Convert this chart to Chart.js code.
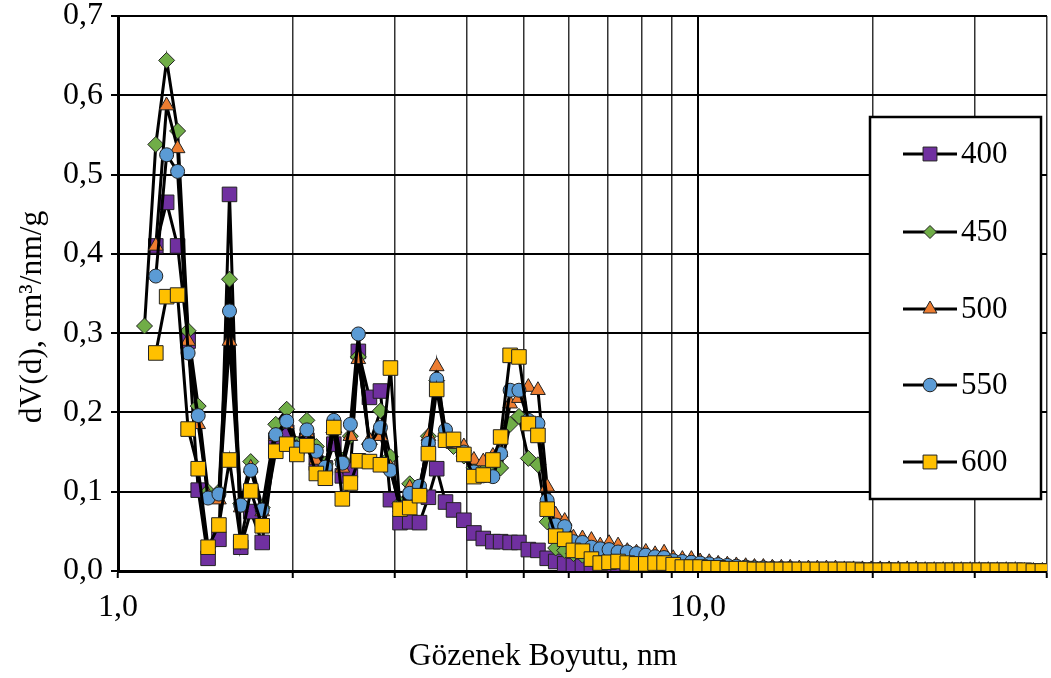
<!DOCTYPE html>
<html>
<head>
<meta charset="utf-8">
<script src="https://cdn.jsdelivr.net/npm/chart.js@4.4.1/dist/chart.umd.min.js"></script>
<style>
html,body{margin:0;padding:0;background:#fff;overflow:hidden}
#wrap{width:1051px;height:678px;position:relative}
canvas{display:block}
</style>
</head>
<body>
<div id="wrap"><canvas id="poreChart"></canvas></div>
<script>
// ----------------------------
// PORE SIZE DISTRIBUTION DATA
// ----------------------------

// pore width, nm
const poreSize = [
1.111, 1.162, 1.213, 1.267, 1.321, 1.375, 1.430, 1.493, 1.557, 1.628,
1.694, 1.773, 1.871, 1.954, 2.034, 2.117, 2.198, 2.278, 2.356, 2.437,
2.516, 2.597, 2.714, 2.835, 2.950, 3.064, 3.185, 3.311, 3.430, 3.545,
3.671, 3.790, 3.949, 4.109, 4.265, 4.431, 4.569, 4.745, 4.914, 5.101,
5.299, 5.497, 5.686, 5.893, 6.101, 6.323, 6.553, 6.786, 7.028, 7.284,
7.555, 7.837, 8.132, 8.438, 8.745, 9.066, 9.402, 9.745, 10.09, 10.46,
10.84, 11.24, 11.65, 12.09, 12.52, 12.97, 13.44, 13.93, 14.43, 14.96,
15.51, 16.07, 16.66, 17.27, 17.89, 18.55, 19.22, 19.90, 20.63, 21.37,
22.16, 22.96, 23.80, 24.66, 25.56, 26.49, 27.46, 28.46, 29.49, 30.57,
31.68, 32.84, 34.03, 35.27, 36.56, 37.89, 39.27
]

// dV(d), cm3/nm/g for each sample
const dv400 = [
null, 0.410, 0.465, 0.410, 0.290, 0.102, 0.016, 0.040, 0.475, 0.030,
0.075, 0.036, 0.165, 0.175, 0.155, 0.165, 0.136, 0.130, 0.160, 0.120,
0.127, 0.277, 0.219, 0.227, 0.090, 0.061, 0.062, 0.061, 0.093, 0.129,
0.087, 0.077, 0.064, 0.048, 0.041, 0.037, 0.037, 0.036, 0.036, 0.027,
0.026, 0.016, 0.012, 0.009, 0.007, 0.006, 0.005, 0.005, 0.004, 0.004,
0.004, 0.003, 0.003, 0.003, 0.003, 0.002, 0.002, 0.002, 0.002, 0.002,
0.002, 0.001, 0.001, 0.001, 0.001, 0.001, 0.001, 0.001, 0.001, 0.001,
0.001, 0.001, 0.001, 0.000, 0.000, 0.000, 0.000, 0.000, 0.000, 0.000,
0.000, 0.000, 0.000, 0.000, 0.000, 0.000, 0.000, 0.000, 0.000, 0.000,
0.000, 0.000, 0.000, 0.000, 0.000, 0.000, 0.000
]

const dv450 = [
0.309, 0.538, 0.644, 0.555, 0.303, 0.208, 0.100, 0.100, 0.368, 0.085,
0.138, 0.080, 0.185, 0.204, 0.160, 0.190, 0.157, 0.135, 0.175, 0.140,
0.170, 0.270, 0.160, 0.202, 0.144, 0.085, 0.110, 0.100, 0.170, 0.240,
0.170, 0.157, 0.145, 0.130, 0.125, 0.125, 0.130, 0.185, 0.195, 0.142,
0.134, 0.062, 0.029, 0.026, 0.022, 0.020, 0.018, 0.016, 0.016, 0.015,
0.014, 0.013, 0.013, 0.012, 0.012, 0.010, 0.009, 0.008, 0.008, 0.007,
0.006, 0.006, 0.005, 0.005, 0.004, 0.004, 0.004, 0.003, 0.003, 0.003,
0.003, 0.002, 0.002, 0.002, 0.002, 0.002, 0.002, 0.001, 0.001, 0.001,
0.001, 0.001, 0.001, 0.001, 0.001, 0.001, 0.001, 0.001, 0.001, 0.001,
0.001, 0.001, 0.001, 0.000, 0.000, 0.000, 0.000
]

const dv500 = [
null, 0.410, 0.587, 0.533, 0.290, 0.185, 0.095, 0.090, 0.290, 0.080,
0.130, 0.075, 0.170, 0.185, 0.155, 0.175, 0.140, 0.130, 0.180, 0.130,
0.170, 0.267, 0.165, 0.170, 0.130, 0.080, 0.105, 0.100, 0.170, 0.258,
0.170, 0.160, 0.157, 0.140, 0.138, 0.145, 0.150, 0.211, 0.218, 0.232,
0.228, 0.106, 0.071, 0.063, 0.042, 0.041, 0.039, 0.032, 0.035, 0.032,
0.025, 0.023, 0.024, 0.021, 0.023, 0.016, 0.015, 0.015, 0.012, 0.011,
0.009, 0.008, 0.007, 0.006, 0.005, 0.005, 0.004, 0.004, 0.004, 0.003,
0.003, 0.003, 0.003, 0.003, 0.002, 0.002, 0.002, 0.002, 0.002, 0.002,
0.002, 0.002, 0.002, 0.001, 0.001, 0.001, 0.001, 0.001, 0.001, 0.001,
0.001, 0.001, 0.001, 0.001, 0.000, 0.000, 0.000
]

const dv550 = [
null, 0.372, 0.525, 0.504, 0.275, 0.196, 0.092, 0.097, 0.328, 0.083,
0.127, 0.077, 0.172, 0.189, 0.155, 0.178, 0.151, 0.131, 0.190, 0.136,
0.185, 0.299, 0.159, 0.181, 0.127, 0.080, 0.098, 0.107, 0.161, 0.242,
0.178, 0.165, 0.150, 0.125, 0.120, 0.119, 0.148, 0.228, 0.228, 0.190,
0.186, 0.089, 0.058, 0.056, 0.037, 0.036, 0.030, 0.028, 0.027, 0.024,
0.024, 0.022, 0.020, 0.018, 0.017, 0.013, 0.012, 0.011, 0.010, 0.009,
0.008, 0.007, 0.006, 0.005, 0.004, 0.004, 0.003, 0.003, 0.003, 0.002,
0.002, 0.002, 0.002, 0.002, 0.002, 0.002, 0.002, 0.002, 0.002, 0.002,
0.001, 0.001, 0.001, 0.001, 0.001, 0.001, 0.001, 0.001, 0.001, 0.001,
0.001, 0.001, 0.000, 0.000, 0.000, 0.000, 0.000
]

const dv600 = [
null, 0.275, 0.346, 0.348, 0.179, 0.129, 0.030, 0.058, 0.140, 0.037,
0.101, 0.057, 0.151, 0.160, 0.147, 0.158, 0.123, 0.117, 0.181, 0.091,
0.111, 0.139, 0.138, 0.134, 0.256, 0.078, 0.080, 0.095, 0.148, 0.229,
0.165, 0.166, 0.147, 0.119, 0.121, 0.140, 0.169, 0.272, 0.270, 0.186,
0.171, 0.078, 0.044, 0.040, 0.026, 0.025, 0.015, 0.010, 0.011, 0.012,
0.010, 0.009, 0.009, 0.010, 0.010, 0.008, 0.005, 0.005, 0.005, 0.004,
0.004, 0.003, 0.003, 0.003, 0.002, 0.002, 0.002, 0.002, 0.002, 0.002,
0.002, 0.002, 0.002, 0.002, 0.002, 0.002, 0.001, 0.001, 0.001, 0.001,
0.001, 0.001, 0.001, 0.001, 0.001, 0.001, 0.001, 0.001, 0.001, 0.001,
0.001, 0.001, 0.001, 0.001, 0.001, 0.000, 0.000
]

const seriesLabels = ["400", "450", "500", "550", "600"]
const seriesValues = [dv400, dv450, dv500, dv550, dv600]

const xTickLabels = {1: "1,0", 10: "10,0"}
const xGridValues = [1, 2, 3, 4, 5, 6, 7, 8, 9, 10, 20, 30, 40]

const xTitle = "Gözenek Boyutu, nm"
const yTitle = "dV(d), cm³/nm/g"


// ----------------------------
// STYLES
// ----------------------------

const serif = '"Liberation Serif", "Times New Roman", serif'

const markers = [
    {style: "rect",     color: "#7030A0", r: 10.3, lr: 9.8},
    {style: "rectRot",  color: "#70AD47", r: 8,    lr: 6.5},
    {style: "triangle", color: "#ED7D31", r: 8.5,  lr: 8},
    {style: "circle",   color: "#5B9BD5", r: 7,    lr: 6.8},
    {style: "rect",     color: "#FFC000", r: 10.3, lr: 9.8}
]

function toPoints(vals){
    return poreSize.map((d,i)=> vals[i] == null ? null : {x:d, y:vals[i]}).filter(p=>p)
}

const datasets = seriesValues.map((vals,i)=>({
    label: seriesLabels[i],
    data: toPoints(vals),
    borderColor: "#000",
    borderWidth: 3,
    tension: 0,
    pointStyle: markers[i].style,
    pointRadius: markers[i].r,
    pointBackgroundColor: markers[i].color,
    pointBorderColor: "#222",
    pointBorderWidth: 1,
    // last sample sits on top
    order: seriesLabels.length - 1 - i
}))


// ------------------------------------
// AXIS TITLES + BOXED LEGEND
// ------------------------------------

const overlay = {
    id: "overlay",
    afterDraw(chart){
        const ctx = chart.ctx
        ctx.save()

        ctx.fillStyle = "#000"
        ctx.font = "31.5px " + serif
        ctx.textAlign = "center"
        ctx.textBaseline = "middle"
        ctx.fillText(xTitle, 543, 657)

        ctx.save()
        ctx.translate(33, 317)
        ctx.rotate(-Math.PI/2)
        ctx.fillText(yTitle, 0, 0)
        ctx.restore()

        // legend box
        ctx.fillStyle = "#fff"
        ctx.fillRect(870, 117, 171, 382)
        ctx.strokeStyle = "#000"
        ctx.lineWidth = 2.5
        ctx.strokeRect(870, 117, 171, 382)

        const rows = [154, 232, 309, 385, 462]
        ctx.font = "31px " + serif
        ctx.textAlign = "left"

        rows.forEach((y,i)=>{
            ctx.strokeStyle = "#000"
            ctx.lineWidth = 3
            ctx.beginPath()
            ctx.moveTo(903, y)
            ctx.lineTo(957, y)
            ctx.stroke()

            ctx.fillStyle = markers[i].color
            ctx.strokeStyle = "#222"
            ctx.lineWidth = 1
            Chart.helpers.drawPoint(ctx, {
                pointStyle: markers[i].style,
                radius: markers[i].lr,
                rotation: 0,
                borderWidth: 1
            }, 930, y)

            ctx.fillStyle = "#000"
            ctx.fillText(seriesLabels[i], 961, y + 1)
        })

        ctx.restore()
    }
}


// ------------------------------------
// CHART
// ------------------------------------

const ctx = document.getElementById("poreChart").getContext("2d")

new Chart(ctx, {
    type: "line",
    data: {datasets: datasets},
    plugins: [overlay],
    options: {
        responsive: true,
        maintainAspectRatio: false,
        animation: false,
        // fixed plot box, no extra room reserved for the markers
        layout: {
            autoPadding: false,
            padding: {top: 16, right: 4, left: 0, bottom: 0}
        },
        plugins: {
            legend: {display: false},
            tooltip: {enabled: false}
        },
        scales: {
            x: {
                type: "logarithmic",
                min: 1,
                max: 40,
                afterBuildTicks: scale => {
                    scale.ticks = xGridValues.map(v=>({value: v}))
                },
                afterFit: scale => {
                    scale.height = 107
                    scale.paddingLeft = 0
                    scale.paddingRight = 0
                },
                ticks: {
                    autoSkip: false,
                    maxRotation: 0,
                    padding: 10,
                    color: "#000",
                    font: {family: serif, size: 32},
                    callback: v => xTickLabels[v] || ""
                },
                grid: {
                    color: c => c.tick && c.tick.value === 10 ? "#000" : "#333",
                    lineWidth: c => c.tick && c.tick.value === 10 ? 2 : 1.5,
                    tickLength: 7,
                    tickColor: "#000",
                    tickWidth: 2
                },
                border: {color: "#000", width: 3}
            },
            y: {
                min: 0,
                max: 0.7,
                afterFit: scale => {
                    scale.width = 118
                    scale.paddingTop = 0
                    scale.paddingBottom = 0
                },
                ticks: {
                    stepSize: 0.1,
                    padding: 8,
                    color: "#000",
                    font: {family: serif, size: 32},
                    callback: v => v.toFixed(1).replace(".", ",")
                },
                grid: {
                    color: "#000",
                    lineWidth: 2,
                    tickLength: 7
                },
                border: {color: "#000", width: 3}
            }
        }
    }
})
</script>
</body>
</html>
